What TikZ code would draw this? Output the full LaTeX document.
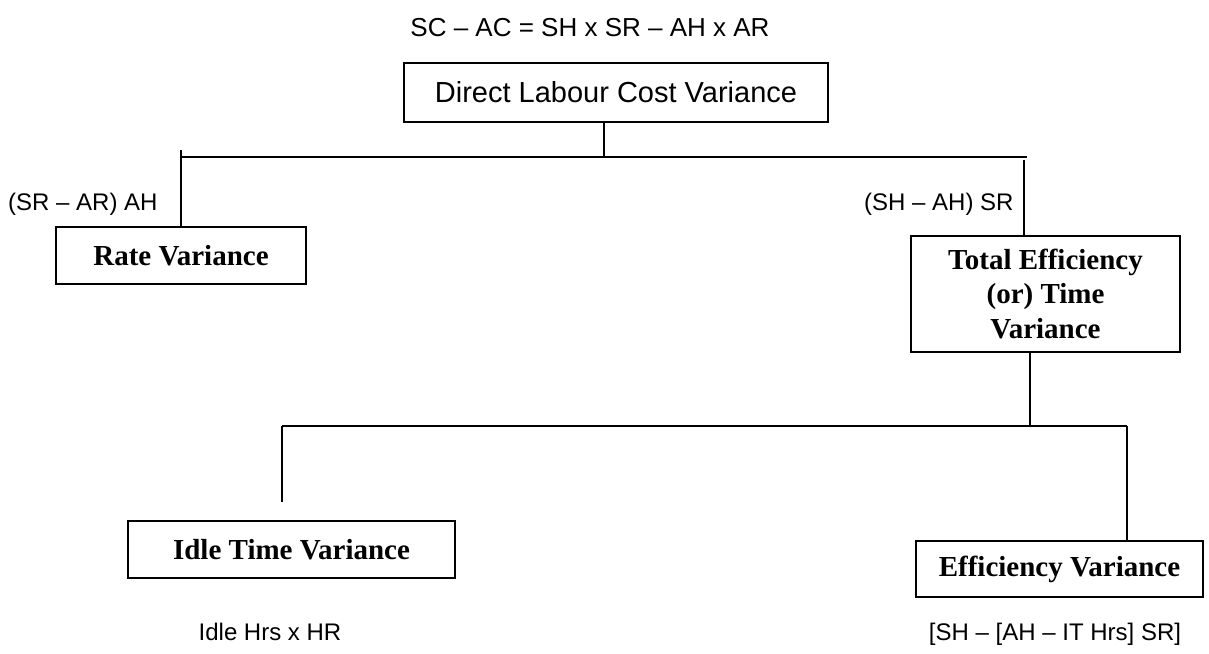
\documentclass[tikz,border=0pt]{standalone}
\usepackage{fontspec}
\setmainfont{Liberation Serif}
\newfontfamily\arialf{Liberation Sans}
\begin{document}
\begin{tikzpicture}[x=1pt,y=-1pt,
  box/.style={draw, line width=1.6pt, inner sep=0pt, align=center},
  sanslabel/.style={font=\arialf\fontsize{24}{28}\selectfont, inner sep=0pt},
  boldtext/.style={font=\bfseries\fontsize{29}{34.5}\selectfont},
  conn/.style={line width=1.6pt}]
\useasboundingbox (0,0) rectangle (1209,653);
% formula
\node[sanslabel, font=\arialf\fontsize{26}{30}\selectfont, anchor=base] (formula) at (590,36) {SC – AC = SH x SR – AH x AR};
% boxes
\node[box, minimum width=424pt, minimum height=59pt, font=\arialf\fontsize{29}{34}\selectfont] (dlcv) at (616,92.5) {Direct Labour Cost Variance};
\node[box, boldtext, minimum width=250pt, minimum height=57pt] (rate) at (181,255.5) {Rate Variance};
\node[box, boldtext, minimum width=269pt, minimum height=116pt] (tev) at (1045.5,294) {Total Efficiency\\(or) Time\\Variance};
\node[box, boldtext, minimum width=327pt, minimum height=57pt] (idle) at (291.5,549.5) {Idle Time Variance};
\node[box, boldtext, minimum width=287pt, minimum height=56pt] (eff) at (1059.5,569) {Efficiency Variance};
% labels
\node[sanslabel, anchor=base west] (lrate) at (8,210) {(SR – AR) AH};
\node[sanslabel, anchor=base west] (ltev) at (864,210) {(SH – AH) SR};
\node[sanslabel, anchor=base] (lidle) at (270,640) {Idle Hrs x HR};
\node[sanslabel, anchor=base] (leff) at (1055,640) {[SH – [AH – IT Hrs] SR]};
% junction coordinates
\coordinate (jA) at (604,157);
\coordinate (hL) at (181,157);
\coordinate (hR) at (1027,157);
\coordinate (tL) at (181,150);
\coordinate (tR) at (1024,160);
\coordinate (jB) at (1030,426);
\coordinate (hL2) at (282,426);
\coordinate (hR2) at (1127,426);
\coordinate (eL) at (282,502);
% connectors
\draw[conn] (dlcv.south -| jA) -- (jA);
\draw[conn] (hL) -- (hR);
\draw[conn] (tL) -- (rate.north);
\draw[conn] (tR) -- (tev.north -| tR);
\draw[conn] (tev.south -| jB) -- (jB);
\draw[conn] (hL2) -- (hR2);
\draw[conn] (hL2) -- (eL);
\draw[conn] (hR2) -- (eff.north -| hR2);
\end{tikzpicture}
\end{document}
